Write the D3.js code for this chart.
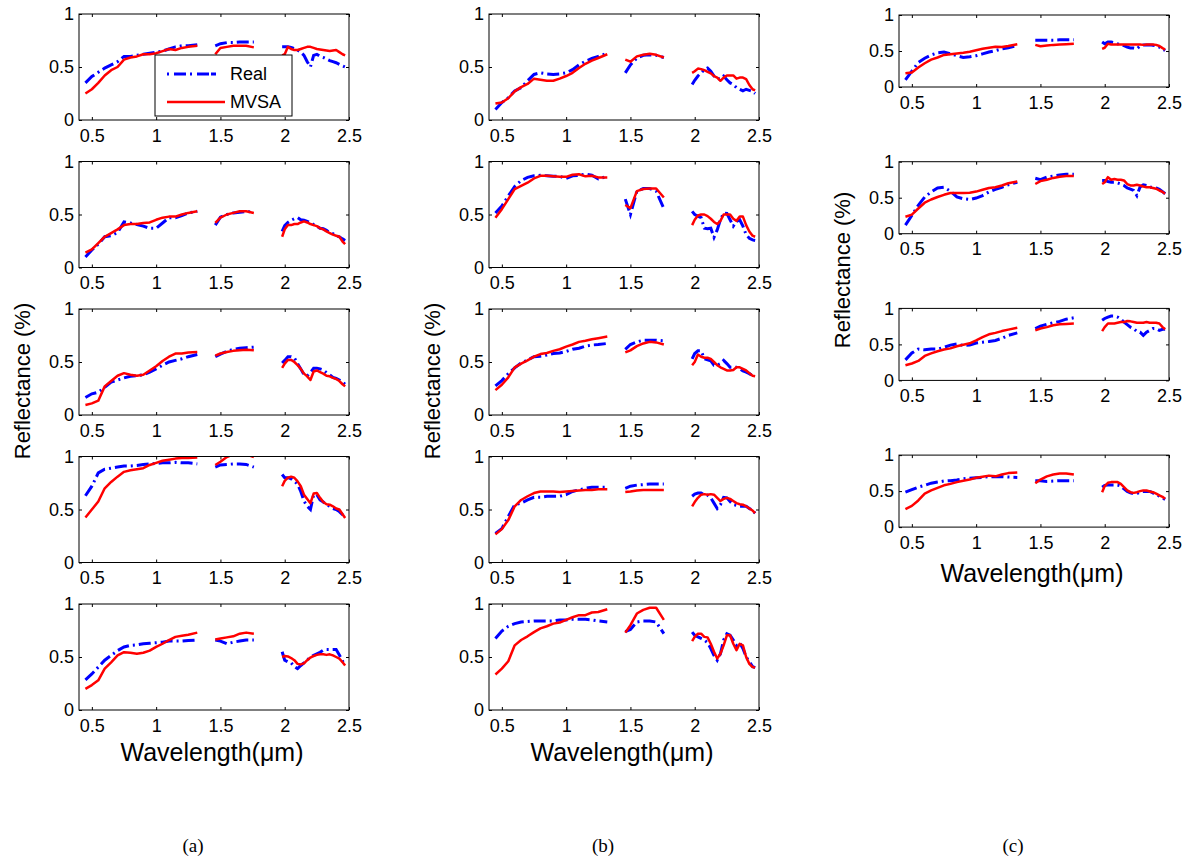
<!DOCTYPE html>
<html>
<head>
<meta charset="utf-8">
<script src="https://cdn.jsdelivr.net/npm/d3@7"></script>
<style>
body{margin:0;background:#fff}
svg text{font-family:Arial,"Liberation Sans",Helvetica,sans-serif}
</style>
</head>
<body>
<div id="chart"></div>
<script>
// sampled wavelengths (um) in the three windows kept after removing water bands
var bandVis   = [0.45,0.5,0.55,0.6,0.65,0.7,0.75,0.8,0.85,0.9,0.95,1.0,1.05,1.1,1.15,1.2,1.25,1.32];
var bandSwir1 = [1.46,1.5,1.55,1.6,1.65,1.7,1.76];
var bandSwir2 = [1.98,2.0,2.025,2.05,2.075,2.1,2.125,2.15,2.175,2.2,2.225,2.25,2.275,2.3,2.325,2.35,2.375,2.4,2.425,2.45,2.47];

var xTicks = [0.5,1,1.5,2,2.5];
var xTickLabels = ["0.5","1","1.5","2","2.5"];
var yTicks = [0,0.5,1];
var yTickLabels = ["0","0.5","1"];
var seriesNames = ["Real","MVSA"];
var captions = ["(a)","(b)","(c)"];

// column (a)
var realA1 = [0.35,0.41,0.45,0.49,0.52,0.55,0.60,0.60,0.61,0.62,0.63,0.64,0.65,0.67,0.69,0.70,0.70,0.71,
  0.70,0.72,0.73,0.73,0.735,0.735,0.735,
  0.69,0.69,0.69,0.685,0.675,0.66,0.64,0.61,0.55,0.50,0.61,0.62,0.60,0.59,0.575,0.56,0.55,0.54,0.525,0.51,0.50];
var mvsaA1 = [0.25,0.29,0.35,0.42,0.47,0.50,0.57,0.59,0.60,0.62,0.62,0.63,0.65,0.67,0.66,0.68,0.69,0.70,
  0.62,0.68,0.69,0.70,0.70,0.70,0.685,
  0.61,0.62,0.69,0.67,0.66,0.66,0.67,0.68,0.69,0.69,0.68,0.67,0.665,0.66,0.655,0.65,0.655,0.66,0.64,0.62,0.61];
var realA2 = [0.10,0.165,0.22,0.29,0.30,0.33,0.43,0.42,0.405,0.39,0.37,0.37,0.42,0.47,0.47,0.49,0.515,0.53,
  0.40,0.475,0.50,0.515,0.52,0.53,0.52,
  0.34,0.395,0.425,0.445,0.46,0.47,0.45,0.445,0.435,0.42,0.405,0.39,0.37,0.365,0.35,0.33,0.32,0.30,0.29,0.27,0.255];
var mvsaA2 = [0.14,0.17,0.23,0.29,0.325,0.36,0.40,0.41,0.41,0.42,0.425,0.45,0.47,0.48,0.48,0.50,0.515,0.53,
  0.42,0.47,0.50,0.515,0.53,0.53,0.515,
  0.29,0.36,0.40,0.40,0.41,0.41,0.425,0.435,0.425,0.41,0.40,0.39,0.37,0.36,0.34,0.325,0.31,0.30,0.29,0.245,0.22];
var realA3 = [0.165,0.20,0.215,0.26,0.31,0.33,0.35,0.365,0.37,0.38,0.405,0.435,0.47,0.50,0.515,0.53,0.55,0.57,
  0.55,0.575,0.60,0.62,0.63,0.635,0.64,
  0.49,0.515,0.55,0.55,0.54,0.485,0.435,0.38,0.37,0.40,0.44,0.44,0.435,0.425,0.40,0.38,0.355,0.345,0.33,0.31,0.29];
var mvsaA3 = [0.095,0.11,0.135,0.27,0.32,0.37,0.395,0.38,0.37,0.38,0.42,0.46,0.51,0.55,0.58,0.58,0.59,0.595,
  0.56,0.58,0.595,0.605,0.61,0.615,0.61,
  0.445,0.485,0.52,0.52,0.50,0.47,0.435,0.39,0.365,0.33,0.41,0.42,0.405,0.39,0.37,0.365,0.35,0.34,0.32,0.29,0.27];
var realA4 = [0.63,0.72,0.845,0.88,0.89,0.90,0.91,0.91,0.915,0.925,0.93,0.935,0.94,0.94,0.945,0.94,0.94,0.93,
  0.90,0.92,0.925,0.93,0.93,0.925,0.90,
  0.83,0.80,0.80,0.79,0.765,0.74,0.67,0.58,0.53,0.50,0.64,0.64,0.59,0.57,0.545,0.53,0.51,0.50,0.48,0.45,0.425];
var mvsaA4 = [0.425,0.50,0.575,0.70,0.76,0.81,0.855,0.87,0.88,0.89,0.92,0.94,0.96,0.97,0.98,0.985,0.985,0.99,
  0.92,0.95,0.995,1.02,1.03,1.02,0.995,
  0.72,0.77,0.80,0.81,0.80,0.765,0.72,0.64,0.60,0.56,0.65,0.655,0.61,0.57,0.55,0.545,0.53,0.51,0.50,0.455,0.42];
var realA5 = [0.285,0.34,0.405,0.47,0.515,0.56,0.595,0.61,0.615,0.625,0.63,0.635,0.64,0.65,0.65,0.65,0.655,0.66,
  0.66,0.65,0.625,0.64,0.65,0.66,0.66,
  0.55,0.47,0.455,0.445,0.41,0.39,0.42,0.445,0.47,0.50,0.515,0.53,0.545,0.565,0.57,0.57,0.57,0.57,0.52,0.46,0.43];
var mvsaA5 = [0.20,0.235,0.28,0.39,0.45,0.515,0.545,0.54,0.53,0.54,0.56,0.595,0.625,0.66,0.69,0.70,0.71,0.73,
  0.665,0.675,0.685,0.695,0.72,0.73,0.72,
  0.50,0.51,0.505,0.49,0.47,0.435,0.43,0.44,0.47,0.495,0.51,0.52,0.525,0.525,0.52,0.525,0.515,0.50,0.485,0.45,0.42];

// column (b)
var realB1 = [0.10,0.165,0.21,0.275,0.305,0.37,0.43,0.445,0.435,0.43,0.435,0.445,0.475,0.52,0.555,0.58,0.60,0.63,
  0.445,0.52,0.585,0.61,0.615,0.61,0.59,
  0.335,0.375,0.415,0.445,0.475,0.49,0.46,0.415,0.39,0.39,0.415,0.38,0.35,0.335,0.305,0.29,0.275,0.29,0.28,0.27,0.25];
var mvsaB1 = [0.155,0.165,0.205,0.27,0.31,0.34,0.39,0.38,0.37,0.37,0.39,0.415,0.445,0.49,0.53,0.56,0.585,0.62,
  0.57,0.55,0.60,0.615,0.625,0.615,0.59,
  0.445,0.46,0.485,0.48,0.47,0.455,0.44,0.415,0.40,0.37,0.40,0.42,0.42,0.42,0.39,0.40,0.40,0.385,0.33,0.29,0.28];
var realB2 = [0.515,0.58,0.675,0.765,0.82,0.85,0.865,0.87,0.865,0.86,0.86,0.84,0.865,0.87,0.88,0.87,0.835,0.86,
  0.645,0.50,0.72,0.745,0.745,0.72,0.555,
  0.53,0.50,0.485,0.47,0.37,0.365,0.37,0.285,0.355,0.45,0.515,0.51,0.45,0.39,0.435,0.45,0.39,0.31,0.275,0.26,0.255];
var mvsaB2 = [0.47,0.55,0.645,0.74,0.77,0.80,0.84,0.865,0.865,0.86,0.855,0.855,0.875,0.88,0.86,0.865,0.85,0.85,
  0.59,0.56,0.72,0.74,0.745,0.745,0.66,
  0.40,0.45,0.49,0.50,0.50,0.485,0.46,0.43,0.41,0.44,0.50,0.50,0.50,0.46,0.44,0.48,0.48,0.40,0.34,0.30,0.29];
var realB3 = [0.275,0.325,0.39,0.445,0.49,0.52,0.55,0.555,0.565,0.58,0.585,0.60,0.62,0.63,0.65,0.66,0.665,0.675,
  0.62,0.665,0.69,0.705,0.705,0.705,0.70,
  0.53,0.58,0.605,0.605,0.53,0.52,0.51,0.47,0.47,0.485,0.515,0.485,0.45,0.45,0.45,0.435,0.415,0.405,0.39,0.37,0.365];
var mvsaB3 = [0.235,0.285,0.355,0.45,0.485,0.515,0.55,0.575,0.585,0.605,0.62,0.645,0.665,0.69,0.70,0.715,0.725,0.74,
  0.59,0.61,0.65,0.675,0.69,0.685,0.665,
  0.47,0.50,0.57,0.55,0.54,0.54,0.53,0.50,0.47,0.45,0.435,0.42,0.42,0.425,0.45,0.45,0.435,0.42,0.395,0.37,0.365];
var realB4 = [0.275,0.32,0.435,0.545,0.56,0.59,0.615,0.615,0.625,0.625,0.625,0.64,0.67,0.685,0.70,0.71,0.71,0.71,
  0.70,0.72,0.73,0.735,0.74,0.74,0.74,
  0.625,0.645,0.655,0.655,0.64,0.635,0.61,0.56,0.51,0.545,0.615,0.61,0.575,0.545,0.54,0.53,0.53,0.53,0.51,0.49,0.465];
var mvsaB4 = [0.265,0.315,0.40,0.53,0.59,0.625,0.655,0.67,0.67,0.67,0.665,0.67,0.675,0.68,0.685,0.685,0.69,0.69,
  0.665,0.67,0.68,0.685,0.685,0.685,0.685,
  0.53,0.57,0.61,0.64,0.645,0.64,0.645,0.64,0.61,0.58,0.60,0.61,0.60,0.58,0.56,0.55,0.545,0.53,0.51,0.49,0.465];
var realB5 = [0.675,0.745,0.79,0.815,0.83,0.835,0.84,0.84,0.84,0.84,0.85,0.85,0.855,0.855,0.855,0.85,0.84,0.83,
  0.74,0.76,0.83,0.84,0.84,0.83,0.72,
  0.735,0.705,0.69,0.675,0.66,0.635,0.58,0.515,0.47,0.53,0.66,0.72,0.705,0.66,0.61,0.635,0.58,0.50,0.455,0.41,0.40];
var mvsaB5 = [0.335,0.39,0.46,0.61,0.66,0.695,0.735,0.77,0.79,0.815,0.825,0.85,0.875,0.895,0.895,0.92,0.925,0.95,
  0.73,0.80,0.91,0.945,0.965,0.965,0.85,
  0.65,0.69,0.72,0.72,0.69,0.685,0.625,0.55,0.485,0.53,0.61,0.705,0.705,0.625,0.565,0.625,0.61,0.50,0.435,0.405,0.40];

// column (c)
var realC1 = [0.10,0.22,0.34,0.40,0.445,0.475,0.485,0.46,0.435,0.41,0.42,0.435,0.46,0.485,0.505,0.53,0.545,0.575,
  0.65,0.65,0.65,0.65,0.655,0.655,0.655,
  0.625,0.60,0.625,0.625,0.615,0.60,0.585,0.575,0.555,0.54,0.54,0.53,0.57,0.585,0.585,0.585,0.58,0.57,0.555,0.53,0.505];
var mvsaC1 = [0.19,0.20,0.27,0.33,0.38,0.41,0.445,0.455,0.465,0.475,0.49,0.51,0.53,0.545,0.56,0.555,0.57,0.595,
  0.585,0.565,0.575,0.585,0.59,0.595,0.60,
  0.53,0.545,0.60,0.59,0.59,0.59,0.59,0.59,0.59,0.59,0.59,0.59,0.59,0.585,0.59,0.59,0.59,0.585,0.57,0.54,0.52];
var realC2 = [0.12,0.255,0.395,0.51,0.58,0.635,0.645,0.59,0.51,0.485,0.475,0.495,0.53,0.58,0.615,0.645,0.68,0.715,
  0.77,0.75,0.785,0.80,0.815,0.825,0.825,
  0.74,0.74,0.725,0.715,0.715,0.705,0.69,0.67,0.635,0.62,0.60,0.53,0.65,0.68,0.67,0.645,0.645,0.635,0.615,0.585,0.555];
var mvsaC2 = [0.235,0.265,0.35,0.43,0.475,0.51,0.54,0.565,0.565,0.565,0.57,0.585,0.61,0.635,0.645,0.67,0.70,0.725,
  0.69,0.73,0.75,0.775,0.79,0.80,0.80,
  0.69,0.715,0.785,0.75,0.76,0.75,0.75,0.74,0.69,0.67,0.67,0.68,0.67,0.655,0.645,0.645,0.635,0.625,0.60,0.58,0.555];
var realC3 = [0.285,0.38,0.435,0.425,0.435,0.435,0.46,0.49,0.505,0.485,0.49,0.52,0.53,0.54,0.555,0.585,0.625,0.66,
  0.72,0.755,0.78,0.80,0.82,0.85,0.87,
  0.835,0.86,0.88,0.895,0.895,0.88,0.85,0.81,0.775,0.74,0.72,0.68,0.67,0.625,0.67,0.695,0.72,0.72,0.695,0.71,0.71];
var mvsaC3 = [0.21,0.235,0.27,0.34,0.375,0.405,0.43,0.445,0.475,0.495,0.515,0.555,0.60,0.64,0.66,0.685,0.705,0.73,
  0.695,0.72,0.74,0.765,0.78,0.785,0.79,
  0.685,0.74,0.79,0.79,0.79,0.80,0.81,0.81,0.825,0.82,0.81,0.80,0.80,0.80,0.81,0.80,0.80,0.80,0.79,0.74,0.71];
var realC4 = [0.485,0.52,0.555,0.58,0.61,0.625,0.64,0.645,0.655,0.67,0.68,0.685,0.69,0.70,0.70,0.70,0.695,0.69,
  0.645,0.645,0.635,0.64,0.645,0.645,0.645,
  0.555,0.58,0.585,0.585,0.585,0.585,0.57,0.53,0.495,0.475,0.465,0.465,0.485,0.495,0.495,0.495,0.475,0.45,0.43,0.405,0.385];
var mvsaC4 = [0.25,0.295,0.37,0.465,0.51,0.545,0.58,0.60,0.625,0.645,0.66,0.685,0.70,0.715,0.705,0.73,0.75,0.76,
  0.61,0.66,0.705,0.73,0.745,0.745,0.73,
  0.485,0.57,0.615,0.625,0.625,0.625,0.60,0.555,0.51,0.485,0.475,0.485,0.50,0.51,0.51,0.495,0.485,0.465,0.44,0.42,0.395];

// panel list: column index, row index, real spectrum, estimated spectrum
var panels = [
  [0,0,realA1,mvsaA1],[0,1,realA2,mvsaA2],[0,2,realA3,mvsaA3],[0,3,realA4,mvsaA4],[0,4,realA5,mvsaA5],
  [1,0,realB1,mvsaB1],[1,1,realB2,mvsaB2],[1,2,realB3,mvsaB3],[1,3,realB4,mvsaB4],[1,4,realB5,mvsaB5],
  [2,0,realC1,mvsaC1],[2,1,realC2,mvsaC2],[2,2,realC3,mvsaC3],[2,3,realC4,mvsaC4]
];

var width = 1191, height = 860;
var colLeft = [79, 489, 899];
var plotW = 270;
var tickFont = "18px";

var svg = d3.select("#chart").append("svg")
  .attr("width", width).attr("height", height);

var bands = [bandVis, bandSwir1, bandSwir2];
function segments(vals){
  var out = [], k = 0;
  bands.forEach(function(b){
    out.push(b.map(function(w, i){ return [w, vals[k + i]]; }));
    k += b.length;
  });
  return out;
}

function panelBox(col, row){
  if(col < 2) return {left: colLeft[col], top: 14 + row*147.5, h: 106};
  return {left: colLeft[col], top: 15 + row*146.7, h: 72};
}

panels.forEach(function(p, idx){
  var box = panelBox(p[0], p[1]);
  var x = d3.scaleLinear().domain([0.4, 2.5]).range([0, plotW]);
  var y = d3.scaleLinear().domain([0, 1]).range([box.h, 0]);
  var g = svg.append("g").attr("transform", "translate(" + box.left + "," + box.top + ")");

  g.append("clipPath").attr("id", "clip" + idx)
    .append("rect").attr("width", plotW).attr("height", box.h);

  var xb = d3.axisBottom(x).tickValues(xTicks).tickSizeInner(-3).tickSizeOuter(0).tickPadding(9)
    .tickFormat(function(d, i){ return xTickLabels[i]; });
  var xt = d3.axisTop(x).tickValues(xTicks).tickSizeInner(-3).tickSizeOuter(0).tickFormat("");
  var yl = d3.axisLeft(y).tickValues(yTicks).tickSizeInner(-3).tickSizeOuter(0).tickPadding(5)
    .tickFormat(function(d, i){ return yTickLabels[i]; });
  var yr = d3.axisRight(y).tickValues(yTicks).tickSizeInner(-3).tickSizeOuter(0).tickFormat("");

  [[xb, "translate(0," + box.h + ")"], [xt, null], [yl, null], [yr, "translate(" + plotW + ",0)"]]
    .forEach(function(a){
      var ag = g.append("g").call(a[0]);
      if(a[1]) ag.attr("transform", a[1]);
      ag.select(".domain").remove();
      ag.selectAll("line").attr("stroke", "#000");
      ag.selectAll("text").attr("fill", "#000").style("font-size", tickFont)
        .style("font-family", "Arial, 'Liberation Sans', sans-serif");
    });

  var line = d3.line().x(function(d){ return x(d[0]); }).y(function(d){ return y(d[1]); });
  var lines = g.append("g").attr("clip-path", "url(#clip" + idx + ")");

  segments(p[2]).forEach(function(seg){
    lines.append("path").attr("d", line(seg)).attr("fill", "none")
      .attr("stroke", "#0000ff").attr("stroke-width", 3)
      .attr("stroke-dasharray", "12,4,2,4");
  });
  segments(p[3]).forEach(function(seg){
    lines.append("path").attr("d", line(seg)).attr("fill", "none")
      .attr("stroke", "#ff0000").attr("stroke-width", 2.5)
      .attr("stroke-linejoin", "round");
  });

  g.append("rect").attr("width", plotW).attr("height", box.h)
    .attr("fill", "none").attr("stroke", "#000").attr("stroke-width", 1);

  // legend on the first panel
  if(idx === 0){
    var lg = svg.append("g").attr("transform", "translate(155,55)");
    lg.append("rect").attr("width", 137).attr("height", 61)
      .attr("fill", "#fff").attr("stroke", "#000").attr("stroke-width", 1);
    seriesNames.forEach(function(name, i){
      var yy = 19 + i*28;
      lg.append("line").attr("x1", 12).attr("x2", 70).attr("y1", yy).attr("y2", yy)
        .attr("stroke", i === 0 ? "#0000ff" : "#ff0000")
        .attr("stroke-width", i === 0 ? 3 : 2.5)
        .attr("stroke-dasharray", i === 0 ? "2,5,12,4,2,5,12" : null);
      lg.append("text").attr("x", 75).attr("y", yy).attr("dy", "0.36em")
        .style("font-size", "18px").text(name);
    });
  }
});

// axis titles
[0, 1, 2].forEach(function(c){
  var cx = colLeft[c] + plotW/2 - 2;
  var ylabY = c < 2 ? 381 : 270;
  var xlabY = c < 2 ? 752 : 573;
  svg.append("text")
    .attr("transform", "translate(" + (colLeft[c] - 57) + "," + ylabY + ") rotate(-90)")
    .attr("text-anchor", "middle").attr("dy", "0.35em")
    .style("font-size", "22px").text("Reflectance (%)");
  svg.append("text").attr("x", cx).attr("y", xlabY).attr("dy", "0.35em")
    .attr("text-anchor", "middle").style("font-size", "25px").text("Wavelength(\u03bcm)");
  svg.append("text").attr("x", colLeft[c] + 114).attr("y", 845).attr("dy", "0.35em")
    .attr("text-anchor", "middle")
    .style("font-family", "'Times New Roman','Liberation Serif',serif")
    .style("font-size", "19px").text(captions[c]);
});
</script>
</body>
</html>
